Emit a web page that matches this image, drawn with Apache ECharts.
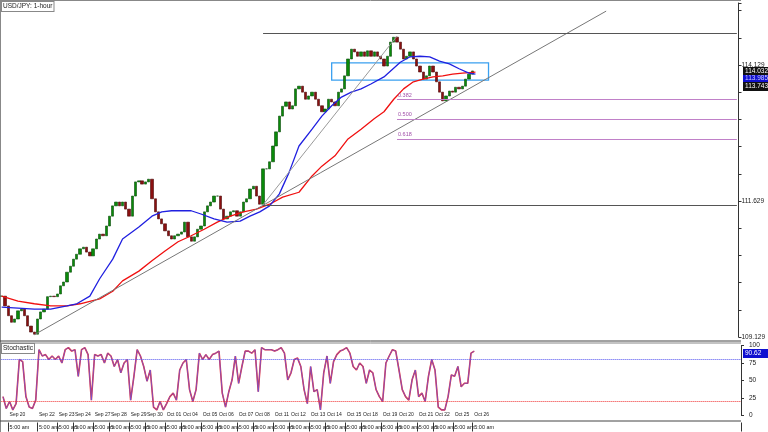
<!DOCTYPE html>
<html>
<head>
<meta charset="utf-8">
<script src="https://cdn.jsdelivr.net/npm/echarts@6/dist/echarts.min.js"></script>
<style>html,body{margin:0;padding:0;background:#fff}#chart{width:768px;height:432px}</style>
</head>
<body>
<div id="chart"></div>
<script>
// closes, one every 4 hours
var closes = [109.88,109.70,109.52,109.40,109.46,109.61,109.64,109.52,109.33,109.22,109.18,109.46,109.59,109.64,109.87,109.88,109.87,109.92,110.07,110.14,
  110.32,110.43,110.56,110.65,110.75,110.78,110.69,110.62,110.75,110.93,111.02,110.99,111.17,111.35,111.54,111.61,111.54,111.61,111.48,111.35,
  111.72,111.98,112.00,111.94,111.98,112.03,111.67,111.43,111.30,111.21,111.08,110.99,110.93,110.99,111.02,111.06,111.24,110.97,110.89,110.97,
  111.11,111.17,111.43,111.54,111.61,111.72,111.72,111.48,111.30,111.35,111.43,111.45,111.35,111.43,111.61,111.67,111.85,111.90,111.72,111.57,
  112.22,112.22,112.35,112.64,112.90,113.19,113.37,113.45,113.32,113.38,113.69,113.74,113.63,113.50,113.56,113.63,113.50,113.38,113.27,113.32,
  113.50,113.45,113.38,113.63,113.69,113.93,114.24,114.42,114.37,114.29,114.37,114.29,114.39,114.29,114.37,114.29,114.24,114.11,114.29,114.55,
  114.64,114.55,114.42,114.24,114.29,114.37,114.24,114.11,114.00,113.87,113.93,114.11,114.00,113.82,113.63,113.47,113.56,113.65,113.63,113.72,
  113.69,113.74,113.87,113.96,114.02];
// moving averages: [slot, price]
var maBlue = [[0,109.68],[10,109.64],[15,109.64],[20,109.70],[23,109.74],[27,109.88],[30,110.20],[34,110.56],[37,110.93],[42,111.15],[46,111.35],[49,111.43],
  [52,111.45],[58,111.45],[61,111.39],[65,111.30],[69,111.24],[73,111.26],[76,111.35],[79,111.43],[82,111.54],[85,111.76],[88,112.16],[91,112.64],
  [95,112.95],[98,113.19],[101,113.38],[104,113.54],[107,113.63],[110,113.69],[113,113.78],[117,113.91],[122,114.18],[125,114.28],[128,114.29],
  [131,114.28],[134,114.20],[137,114.15],[140,114.06],[143,113.98],[145,113.96]];
var maRed = [[0,109.88],[5,109.79],[10,109.74],[15,109.70],[20,109.70],[24,109.74],[30,109.83],[34,109.97],[37,110.16],[42,110.34],[46,110.53],[50,110.71],
  [54,110.88],[58,110.99],[62,111.11],[66,111.24],[70,111.35],[74,111.43],[78,111.48],[82,111.57],[86,111.70],[91,111.79],[95,112.09],[98,112.27],
  [102,112.46],[106,112.77],[110,112.95],[114,113.14],[117,113.27],[120,113.50],[123,113.69],[126,113.82],[129,113.87],[132,113.91],[135,113.93],
  [138,113.96],[141,113.98],[145,114.00]];
var stoch = [27,10,20,8,17,80,77,27,12,10,22,94,85,87,80,85,80,85,75,94,97,92,94,56,94,97,87,22,87,85,87,75,89,85,70,80,61,75,80,22,
  56,94,85,70,49,65,12,8,20,8,17,27,32,22,65,75,80,37,20,37,89,80,87,80,87,89,92,32,12,34,51,85,46,70,92,92,89,94,34,97,
  94,94,94,92,94,97,89,51,61,80,82,70,37,17,70,34,37,8,61,85,46,77,87,92,94,97,89,70,65,75,70,46,65,61,37,27,
  20,75,85,94,92,65,37,27,22,51,65,27,32,20,56,80,65,12,8,8,27,58,56,70,41,46,46,89,92];
var dateNames = ['Sep 20','Sep 22','Sep 23','Sep 24','Sep 27','Sep 28','Sep 29','Sep 30','Oct 01','Oct 04','Oct 05','Oct 06','Oct 07','Oct 08',
  'Oct 11','Oct 12','Oct 13','Oct 14','Oct 15','Oct 18','Oct 19','Oct 20','Oct 21','Oct 22','Oct 25','Oct 26'];
var dateSlots = [2,11,17,22,28,33,39,44,50,55,61,66,72,77,83,88,94,99,105,110,116,121,127,132,138,144];
var priceLabels = [109.129, 111.629, 114.129];
var fibLevels = [['0.382',113.50],['0.500',113.14],['0.618',112.77]];

var nSlots = 226;
var cats = [];
for (var i = 0; i < nSlots; i++) cats.push('');
dateSlots.forEach(function (s, k) { cats[s] = dateNames[k]; });

var candles = closes.map(function (c, i) {
    var o = i === 0 ? c : closes[i - 1];
    return [o, c, Math.min(o, c), Math.max(o, c)];
});
var stochData = stoch.map(function (v, i) { return [i, v]; });

var myChart = echarts.init(document.getElementById('chart'));
var fnt = 'Liberation Sans';

var option = {
    animation: false,
    textStyle: {fontFamily: fnt},
    grid: [
        {left: 0, right: 27, top: 3, height: 334},
        {left: 0, right: 27, top: 345.5, height: 70}
    ],
    xAxis: [
        {type: 'category', gridIndex: 0, data: cats, boundaryGap: true,
            axisLine: {show: false}, axisTick: {show: false}, axisLabel: {show: false}},
        {type: 'category', gridIndex: 1, data: cats, boundaryGap: true, position: 'bottom',
            axisLine: {show: false}, axisTick: {show: false},
            axisLabel: {interval: 0, fontSize: 5, color: '#222', margin: -3, align: 'left'}},
        {type: 'category', gridIndex: 1, data: cats, boundaryGap: true, position: 'bottom', offset: 7,
            axisLine: {show: false},
            axisTick: {show: true, interval: function (i, v) { return v !== ''; }, length: 9, inside: false, lineStyle: {color: '#333'}},
            axisLabel: {interval: 0, fontSize: 5.5, color: '#222', margin: 2, align: 'left',
                formatter: function (v) { return v ? '5:00 am' : ''; }}}
    ],
    yAxis: [
        {type: 'value', gridIndex: 0, position: 'right', min: 109.129, max: 115.269, interval: 0.5,
            splitLine: {show: false},
            axisLine: {show: true, lineStyle: {color: '#333'}},
            axisTick: {show: true, length: 3, lineStyle: {color: '#333'}},
            axisLabel: {fontSize: 6.5, color: '#222', margin: 3,
                formatter: function (v) {
                    for (var k = 0; k < priceLabels.length; k++) if (Math.abs(v - priceLabels[k]) < 0.01) return priceLabels[k].toFixed(3);
                    return '';
                }}},
        {type: 'value', gridIndex: 1, position: 'right', min: 0, max: 100, interval: 25,
            splitLine: {show: false},
            axisLine: {show: true, lineStyle: {color: '#333'}},
            axisTick: {show: true, length: 3, lineStyle: {color: '#333'}},
            axisLabel: {fontSize: 6.5, color: '#222', margin: 8}}
    ],
    series: [
        {
            type: 'candlestick', xAxisIndex: 0, yAxisIndex: 0, data: candles, barWidth: 2.8,
            itemStyle: {color: '#0a8a0a', color0: '#8a1010', borderColor: '#0a4a0a', borderColor0: '#4a0a0a', borderWidth: 0.6},
            markLine: {
                symbol: 'none', silent: true, label: {show: false},
                data: [
                    [{coord: [10, 109.17], lineStyle: {color: '#777', width: 1, type: 'solid'}}, {coord: [185, 115.12]}],
                    [{coord: [80, 111.56], lineStyle: {color: '#999', width: 1, type: 'solid'}}, {coord: [121, 114.66]}],
                    [{coord: [80, 114.72], lineStyle: {color: '#555', width: 1, type: 'solid'}}, {coord: [nSlots - 1, 114.72]}],
                    [{coord: [80, 111.56], lineStyle: {color: '#555', width: 1, type: 'solid'}}, {coord: [nSlots - 1, 111.56]}]
                ].concat(fibLevels.map(function (f) {
                    return [{coord: [121, f[1]], lineStyle: {color: '#c080c8', width: 1, type: 'solid'},
                        label: {show: true, position: 'insideStartTop', formatter: f[0], fontSize: 5.5, color: '#a050a8', distance: 1}},
                        {coord: [nSlots - 1, f[1]]}];
                }))
            },
            markArea: {
                silent: true,
                itemStyle: {color: 'rgba(0,0,0,0)', borderColor: '#3aa0f0', borderWidth: 1.3},
                data: [[{coord: [101, 114.17]}, {coord: [149, 113.85]}]]
            }
        },
        {type: 'line', xAxisIndex: 0, yAxisIndex: 0, data: maRed, showSymbol: false, lineStyle: {color: '#f01010', width: 1.3}, z: 3},
        {type: 'line', xAxisIndex: 0, yAxisIndex: 0, data: maBlue, showSymbol: false, lineStyle: {color: '#2020e0', width: 1.3}, z: 3},
        {type: 'line', xAxisIndex: 1, yAxisIndex: 1, data: stochData, showSymbol: false, lineStyle: {color: '#f03030', width: 1.6},
            markLine: {symbol: 'none', silent: true, label: {show: false},
                data: [{yAxis: 80, lineStyle: {color: '#5050f0', type: 'dotted', width: 1}},
                       {yAxis: 20, lineStyle: {color: '#f03030', type: 'dotted', width: 1}}]}},
        {type: 'line', xAxisIndex: 1, yAxisIndex: 1, data: stochData, showSymbol: false, lineStyle: {color: '#5a5af0', width: 0.7}}
    ],
    graphic: [
        {type: 'line', shape: {x1: 0, y1: 0.5, x2: 741, y2: 0.5}, style: {stroke: '#888'}},
        {type: 'line', shape: {x1: 0.5, y1: 0, x2: 0.5, y2: 432}, style: {stroke: '#888'}},
        {type: 'line', shape: {x1: 0, y1: 341, x2: 741, y2: 341}, style: {stroke: '#444'}},
        {type: 'line', shape: {x1: 0, y1: 343, x2: 741, y2: 343}, style: {stroke: '#888'}},
        {type: 'line', shape: {x1: 0, y1: 421, x2: 741, y2: 421}, style: {stroke: '#444'}},
        {type: 'text', left: 1, top: 1, style: {text: 'USD/JPY: 1-hour', fontSize: 6.5, fill: '#222', fontFamily: fnt,
            backgroundColor: '#fff', borderColor: '#888', borderWidth: 1, padding: [1, 1]}},
        {type: 'text', left: 1, top: 343, style: {text: 'Stochastic', fontSize: 6.5, fill: '#222', fontFamily: fnt,
            backgroundColor: '#fff', borderColor: '#888', borderWidth: 1, padding: [1, 1]}},
        {type: 'text', left: 743, top: 67, style: {text: '114.032', fontSize: 6.5, fill: '#fff', fontFamily: fnt,
            backgroundColor: '#111', padding: [1, 2], width: 21}},
        {type: 'text', left: 743, top: 75, style: {text: '113.985', fontSize: 6.5, fill: '#ccf', fontFamily: fnt,
            backgroundColor: '#1010d0', padding: [0, 2], width: 21}},
        {type: 'text', left: 743, top: 82, style: {text: '113.743', fontSize: 6.5, fill: '#fff', fontFamily: fnt,
            backgroundColor: '#111', padding: [1, 2], width: 21}},
        {type: 'text', left: 743, top: 349, style: {text: '90.62', fontSize: 6.5, fill: '#fff', fontFamily: fnt,
            backgroundColor: '#1010d0', padding: [1, 2], width: 21, align: 'right'}}
    ]
};
myChart.setOption(option);
</script>
</body>
</html>
